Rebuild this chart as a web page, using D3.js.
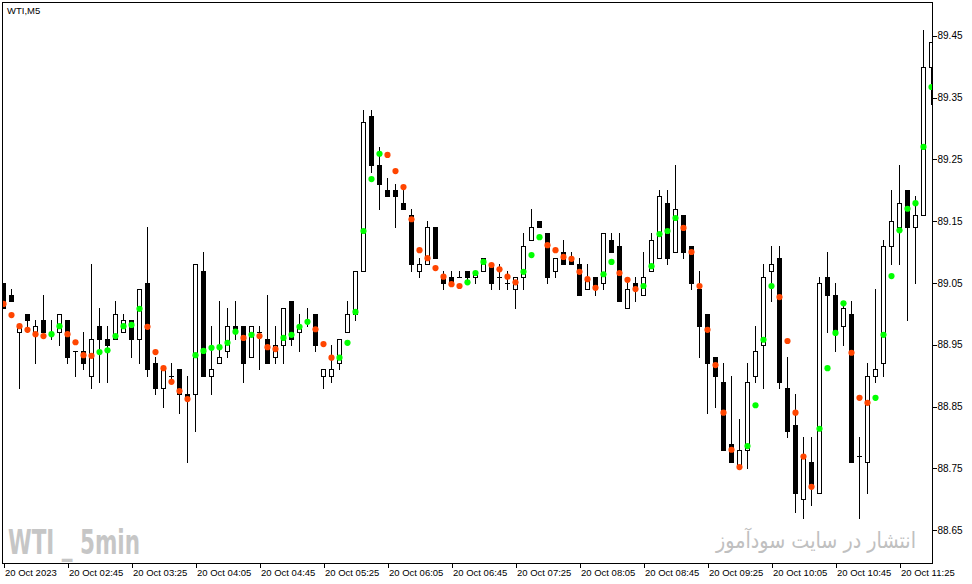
<!DOCTYPE html>
<html><head><meta charset="utf-8">
<script src="https://cdn.jsdelivr.net/npm/d3@7"></script>
<style>html,body{margin:0;padding:0;background:#fff;overflow:hidden}</style>
</head><body><svg id="c" width="972" height="584"></svg>
<script>
// ---- data ----
const symbolLabel = "WTI,M5";
const firstBar = {h: 2, m: 5}, barMinutes = 5, barCount = 117;
const open = [89.05,89.03,88.97,89.00,88.97,88.99,88.97,88.97,88.99,88.94,88.94,88.90,88.98,88.96,88.96,88.97,88.99,88.96,89.05,88.92,
88.88,88.90,88.91,88.87,88.87,89.07,88.90,88.92,88.94,88.98,88.98,88.93,88.97,88.96,88.93,88.95,89.02,88.97,88.99,89.00,
88.90,88.90,88.92,88.97,89.00,89.07,89.32,89.24,89.20,89.20,89.18,89.16,89.07,89.08,89.14,89.06,89.06,89.06,89.07,89.06,
89.07,89.08,89.06,89.05,89.04,89.06,89.12,89.15,89.13,89.07,89.10,89.09,89.08,89.04,89.06,89.05,89.12,89.11,89.01,89.05,
89.03,89.07,89.09,89.18,89.10,89.16,89.11,89.04,89.00,88.93,88.89,88.79,88.75,88.78,88.90,88.95,89.07,89.09,88.88,88.82,
88.70,88.76,88.71,89.06,89.03,88.98,89.00,88.77,88.76,88.90,88.92,89.11,89.14,89.20,89.14,89.16,89.40];
const high = [89.05,89.04,88.98,89.00,88.99,89.03,88.99,89.00,88.99,88.94,88.97,89.08,89.01,88.98,89.02,89.00,88.99,89.04,89.14,88.93,
88.91,88.92,88.91,88.90,89.08,89.10,88.98,89.02,89.01,89.02,88.98,88.98,88.98,89.03,88.98,89.01,89.02,89.00,89.01,89.00,
88.91,88.95,88.96,89.02,89.07,89.33,89.33,89.27,89.22,89.21,89.20,89.17,89.09,89.15,89.14,89.07,89.07,89.07,89.07,89.07,
89.09,89.08,89.08,89.07,89.06,89.13,89.17,89.15,89.13,89.09,89.12,89.10,89.09,89.08,89.06,89.13,89.13,89.13,89.06,89.06,
89.10,89.13,89.20,89.20,89.24,89.16,89.11,89.07,89.00,88.93,88.92,88.90,88.83,88.92,88.98,89.08,89.11,89.11,88.93,88.87,
88.80,88.80,89.06,89.10,89.05,89.02,89.02,88.80,88.92,89.04,89.12,89.20,89.24,89.20,89.19,89.46,89.44];
const low = [89.01,89.02,88.88,88.97,88.92,88.97,88.96,88.95,88.92,88.90,88.91,88.88,88.89,88.89,88.96,88.97,88.93,88.92,88.90,88.87,
88.85,88.89,88.84,88.76,88.81,88.90,88.87,88.92,88.93,88.96,88.89,88.93,88.91,88.92,88.92,88.92,88.95,88.94,88.98,88.94,
88.88,88.89,88.91,88.97,88.99,89.07,89.23,89.17,89.19,89.14,89.17,89.07,89.06,89.08,89.09,89.04,89.05,89.06,89.05,89.05,
89.07,89.04,89.04,89.04,89.01,89.04,89.12,89.14,89.05,89.06,89.08,89.08,89.03,89.04,89.03,89.04,89.10,89.02,89.01,89.02,
89.03,89.07,89.09,89.08,89.10,89.09,89.04,88.93,88.84,88.85,88.78,88.76,88.75,88.75,88.89,88.88,89.02,88.88,88.80,88.68,
88.67,88.69,88.71,88.97,88.94,88.95,88.76,88.67,88.71,88.89,88.90,89.08,89.08,88.99,89.05,89.16,89.34];
const close = [89.01,89.02,88.98,88.99,88.98,88.97,88.97,89.00,88.93,88.94,88.92,88.96,88.96,88.95,89.00,88.99,88.96,89.04,88.91,88.88,
88.91,88.90,88.87,88.86,89.08,88.90,88.91,88.93,88.98,88.97,88.92,88.98,88.97,88.92,88.95,89.01,88.96,88.98,88.99,88.95,
88.91,88.91,88.96,89.00,89.07,89.31,89.24,89.21,89.19,89.19,89.17,89.08,89.08,89.14,89.09,89.05,89.05,89.06,89.06,89.07,
89.09,89.05,89.06,89.05,89.06,89.11,89.14,89.14,89.06,89.09,89.08,89.08,89.03,89.06,89.04,89.13,89.10,89.02,89.04,89.04,
89.06,89.12,89.19,89.09,89.17,89.10,89.05,88.98,88.92,88.90,88.78,88.76,88.78,88.89,88.94,89.06,89.08,88.89,88.81,88.71,
88.77,88.72,89.05,89.03,88.97,89.01,88.76,88.77,88.90,88.91,89.11,89.15,89.18,89.14,89.16,89.40,89.44];
const dotValue = [89.016,88.998,88.980,88.974,88.967,88.964,88.967,88.980,88.967,88.954,88.933,88.932,88.938,88.941,88.964,88.980,88.982,89.008,88.979,88.938,
88.912,88.890,88.875,88.862,88.933,88.940,88.945,88.946,88.953,88.971,88.961,88.966,88.964,88.946,88.943,88.961,88.966,88.979,88.987,88.975,
88.951,88.929,88.929,88.953,89.003,89.134,89.218,89.259,89.257,89.231,89.205,89.153,89.103,89.090,89.074,89.060,89.048,89.045,89.051,89.066,
89.084,89.079,89.072,89.060,89.051,89.068,89.095,89.124,89.111,89.103,89.092,89.089,89.068,89.056,89.042,89.064,89.084,89.066,89.055,89.040,
89.045,89.077,89.129,89.134,89.155,89.139,89.100,89.045,88.974,88.917,88.840,88.780,88.752,88.786,88.852,88.958,89.045,89.027,88.956,88.840,
88.769,88.720,88.814,88.912,88.969,89.017,88.937,88.864,88.856,88.864,88.966,89.061,89.135,89.170,89.179,89.270,89.367];
// 1 = up (green), 0 = down (orange)
const dotUp = [0,0,0,0,0,0,1,1,0,0,0,0,1,1,1,1,1,1,0,0,
0,0,0,0,1,1,1,1,1,1,0,1,0,0,0,1,1,1,1,0,
0,0,1,1,1,1,1,1,0,0,0,0,0,0,0,0,0,0,1,1,
1,0,0,0,0,1,1,1,0,0,0,0,0,0,0,1,1,0,0,0,
1,1,1,1,1,0,0,0,0,0,0,0,0,1,1,1,1,0,0,0,
0,0,1,1,1,1,0,0,0,1,1,1,1,1,1,1,1];
const priceTicks = [88.65,88.75,88.85,88.95,89.05,89.15,89.25,89.35,89.45];
const timeTickBars = [0,8,16,24,32,40,48,56,64,72,80,88,96,104,112];
const timeTickLabels = ["20 Oct 2023","20 Oct 02:45","20 Oct 03:25","20 Oct 04:05","20 Oct 04:45","20 Oct 05:25","20 Oct 06:05","20 Oct 06:45","20 Oct 07:25","20 Oct 08:05","20 Oct 08:45","20 Oct 09:25","20 Oct 10:05","20 Oct 10:45","20 Oct 11:25"];
const watermarkLeft = "WTI _ 5min";
const watermarkRight = "انتشار در سایت سودآموز";

// ---- categories (bar times) ----
const times = [];
for (let i = 0; i < barCount; i++) {
  const t = firstBar.h * 60 + firstBar.m + i * barMinutes;
  times.push(String(Math.floor(t / 60)).padStart(2, "0") + ":" + String(t % 60).padStart(2, "0"));
}

// ---- layout ----
const W = 972, H = 584;
const L = 2, T = 2, R = 932, B = 563;
const svg = d3.select("#c");
const font = "'Liberation Sans', Arial, sans-serif";

svg.append("rect").attr("width", W).attr("height", H).attr("fill", "#fff");

const x = d3.scalePoint().domain(times).range([3, 931]);
const y = d3.scaleLinear().domain([88.65, 89.45]).range([530.1, 35.7]);

// watermarks (single text elements, horizontally fitted with a transform)
const wm = svg.append("text").attr("x", 0).attr("y", 0)
  .attr("font-family", "'Liberation Sans Narrow','DejaVu Sans Condensed','Liberation Sans',sans-serif")
  .attr("font-weight", "bold").attr("font-size", 34).attr("fill", "#c6c6c6")
  .text(watermarkLeft);
const wmW = wm.node().getComputedTextLength();
wm.attr("transform", `translate(8,554) scale(${132 / wmW},1)`);

const pt = svg.append("text").attr("x", 0).attr("y", 0)
  .attr("text-anchor", "middle")
  .attr("font-family", "'DejaVu Sans',sans-serif").attr("font-size", 22).attr("fill", "#c0c0c0")
  .text(watermarkRight);
const natural = pt.node().getComputedTextLength();
pt.attr("transform", `translate(816,548) scale(${200 / natural},1)`);

// clip
svg.append("clipPath").attr("id", "clip").append("rect")
  .attr("x", L + 1).attr("y", T + 1).attr("width", R - L - 1).attr("height", B - T - 1);
const plot = svg.append("g").attr("clip-path", "url(#clip)").attr("shape-rendering", "crispEdges");

const bars = d3.range(barCount);
const g = plot.selectAll("g.bar").data(bars).join("g").attr("class", "bar");
g.each(function (i) {
  const sel = d3.select(this);
  const cx = Math.round(x(times[i]));
  const yh = Math.round(y(high[i])), yl = Math.round(y(low[i]));
  sel.append("rect").attr("x", cx).attr("y", yh).attr("width", 1).attr("height", Math.max(1, yl - yh + 1)).attr("fill", "#000");
  const top = Math.round(y(Math.max(open[i], close[i])));
  const bot = Math.round(y(Math.min(open[i], close[i])));
  if (close[i] > open[i]) {
    sel.append("rect").attr("x", cx - 1.5).attr("y", top + 0.5).attr("width", 4).attr("height", Math.max(1, bot - top))
      .attr("fill", "#fff").attr("stroke", "#000").attr("stroke-width", 1);
  } else if (close[i] < open[i]) {
    sel.append("rect").attr("x", cx - 2).attr("y", top).attr("width", 5).attr("height", bot - top + 1).attr("fill", "#000");
  } else {
    sel.append("rect").attr("x", cx - 2).attr("y", top).attr("width", 5).attr("height", 1).attr("fill", "#000");
  }
});

// dots
const dots = svg.append("g").attr("clip-path", "url(#clip)");
dots.selectAll("circle").data(bars).join("circle")
  .attr("cx", i => Math.round(x(times[i])) + 0.5)
  .attr("cy", i => y(dotValue[i]))
  .attr("r", 3.1)
  .attr("fill", i => dotUp[i] ? "#00ff00" : "#ff4500");

// frame
svg.append("rect").attr("x", L + 0.5).attr("y", T + 0.5).attr("width", R - L).attr("height", B - T)
  .attr("fill", "none").attr("stroke", "#000").attr("shape-rendering", "crispEdges");

// right price axis
const ya = svg.append("g").attr("transform", `translate(${R + 0.5},0)`)
  .call(d3.axisRight(y).tickValues(priceTicks).tickSize(4).tickPadding(1).tickFormat(d3.format(".2f")));
ya.select(".domain").remove();
ya.selectAll("line").attr("stroke", "#000").attr("shape-rendering", "crispEdges");
ya.selectAll("text").attr("font-family", font).attr("font-size", 10).attr("fill", "#000");

// bottom time axis
const tickTimes = timeTickBars.map(i => times[i]);
const xa = svg.append("g").attr("transform", `translate(0.5,${B + 0.5})`)
  .call(d3.axisBottom(x).tickValues(tickTimes).tickSize(4).tickPadding(2)
    .tickFormat((d, k) => timeTickLabels[k]));
xa.select(".domain").remove();
xa.selectAll("line").attr("stroke", "#000").attr("shape-rendering", "crispEdges");
xa.selectAll("text").attr("font-family", font).attr("font-size", 9.5).attr("fill", "#000")
  .attr("text-anchor", "start").attr("x", 1);

// symbol label
svg.append("text").attr("x", 7).attr("y", 14).attr("font-family", font).attr("font-size", 9.5)
  .attr("fill", "#000").text(symbolLabel);
</script>
</body></html>
